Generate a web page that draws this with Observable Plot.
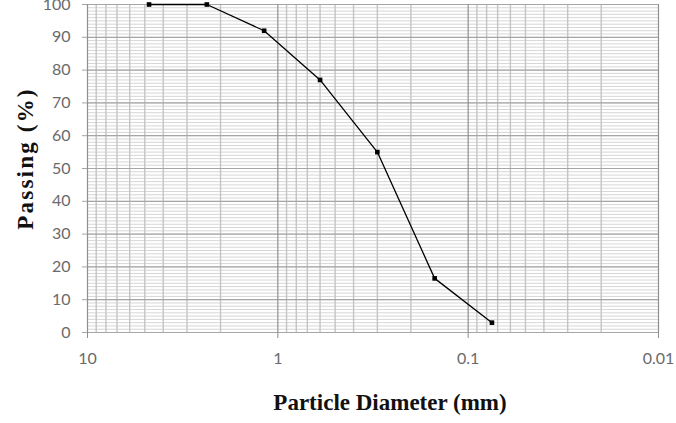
<!DOCTYPE html>
<html>
<head>
<meta charset="utf-8">
<script src="https://cdn.jsdelivr.net/npm/d3@7"></script>
<script src="https://cdn.jsdelivr.net/npm/@observablehq/plot@0.6"></script>
<style>
  html, body { margin: 0; padding: 0; background: #fff; }
  #chart svg { display: block; }
  .lbl text { font-family: "Liberation Serif", serif; font-weight: bold; font-size: 23px; fill: #111; }
  .ylbl text { letter-spacing: 2.2px; }
</style>
</head>
<body>
<div id="chart"></div>
<script>
// Sieve data (particle diameter in mm, percent passing)
const diameter = [4.75, 2.36, 1.18, 0.6, 0.3, 0.15, 0.075];
const passing = [100, 100, 92, 77, 55, 16.5, 3];

// Tick labels
const xTicks = [10, 1, 0.1, 0.01];
const xTickLabels = ["10", "1", "0.1", "0.01"];
const yTicks = [0, 10, 20, 30, 40, 50, 60, 70, 80, 90, 100];

// Gridline positions
const decades = [1, 0.1, 0.01];
const minorX = decades.flatMap(d => [2, 3, 4, 5, 6, 7, 8, 9].map(m => +(m * d).toPrecision(3)));
const minorY = d3.range(0, 101, 1);

const data = diameter.map((d, i) => ({d, p: passing[i]}));

const chart = Plot.plot({
  width: 676,
  height: 423,
  marginLeft: 87,
  marginRight: 18,
  marginTop: 4,
  marginBottom: 91,
  style: {fontFamily: "Lato, sans-serif", fontSize: "16px", color: "#6a6a6a", background: "#fff"},
  x: {type: "log", domain: [10, 0.01], label: null},
  y: {domain: [0, 100], label: null},
  marks: [
    Plot.ruleY(minorY, {stroke: "#d6d6d6", strokeWidth: 1}),
    Plot.ruleX(minorX, {stroke: "#c4c4c4", strokeWidth: 1.4}),
    Plot.ruleY(yTicks, {stroke: "#a6a6a6", strokeWidth: 1.2}),
    Plot.ruleX(xTicks, {stroke: "#8f8f8f", strokeWidth: 1.2}),
    Plot.axisX(xTicks, {
      tickSize: 6, stroke: "#8f8f8f", tickPadding: 14,
      tickFormat: (d) => xTickLabels[xTicks.indexOf(d)],
      fill: "#6a6a6a", label: null
    }),
    Plot.axisY(yTicks, {
      tickSize: 5, stroke: "#a6a6a6", tickPadding: 12,
      fill: "#6a6a6a", label: null
    }),
    Plot.line(data, {x: "d", y: "p", stroke: "#000", strokeWidth: 1.3}),
    Plot.dot(data, {x: "d", y: "p", symbol: "square", r: 2.6, fill: "#000", stroke: "none"}),
    Plot.text(["Particle Diameter (mm)"], {frameAnchor: "bottom", textAnchor: "middle", dy: 77, dx: 17, className: "lbl"}),
    Plot.text(["Passing (%)"], {frameAnchor: "left", textAnchor: "middle", rotate: -90, dx: -62, dy: -10, className: "lbl ylbl"})
  ]
});
document.getElementById("chart").append(chart);
</script>
</body>
</html>
